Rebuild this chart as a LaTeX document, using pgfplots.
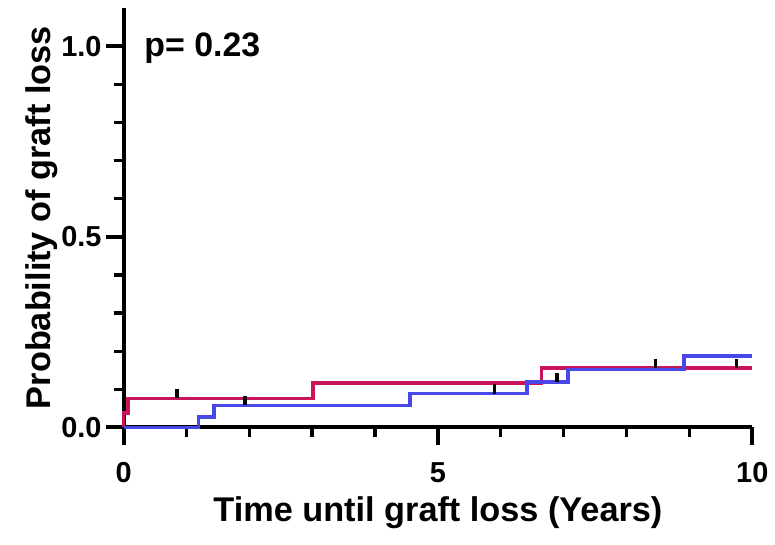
\documentclass[border=0pt]{standalone}
\usepackage{pgfplots}
\pgfplotsset{compat=1.18}
\usepackage{fontspec}
\setmainfont{Liberation Sans}
\definecolor{kmred}{RGB}{200,20,90}
\definecolor{kmblue}{RGB}{72,72,232}
\begin{document}
\begin{tikzpicture}
\begin{axis}[
    scale only axis,
    width=315.5pt,
    height=210.5pt,
    xmin=0, xmax=10,
    ymin=0, ymax=1.1,
    axis lines=left,
    axis line style={-, line width=2pt},
    clip=false,
    xtick={0,5,10},
    minor xtick={1,2,3,4,6,7,8,9},
    ytick={0,0.5,1},
    minor ytick={0.1,0.2,0.3,0.4,0.6,0.7,0.8,0.9},
    tick align=outside,
    major tick length=9pt,
    minor tick length=5pt,
    every tick/.style={black, line width=2pt},
    minor tick style={black, line width=1.7pt},
    /pgf/number format/assume math mode=true,
    ticklabel style={font=\fontsize{14.5}{16}\selectfont\bfseries},
    yticklabel style={/pgf/number format/fixed, /pgf/number format/precision=1, /pgf/number format/fixed zerofill, xshift=1.5pt},
    xticklabel style={yshift=-5pt},
    xlabel={Time until graft loss (Years)},
    ylabel={Probability of graft loss},
    label style={font=\fontsize{17.2}{19}\selectfont\bfseries},
    xlabel style={yshift=0pt},
    ylabel style={yshift=-5pt},
]
% red group
\addplot[const plot, kmred, line width=1.8pt] coordinates {
    (0,0) (0,0.038) (0.07,0.076) (3.01,0.117) (6.65,0.156) (10,0.156)
};
% blue group
\addplot[const plot, kmblue, line width=1.8pt] coordinates {
    (0,0) (1.19,0.028) (1.44,0.058) (4.56,0.089) (6.42,0.119) (7.07,0.152) (8.91,0.187) (10,0.187)
};
% censored observations
\addplot[only marks, mark=|, mark size=2.3pt, black, mark options={line width=1.9pt, yshift=2.3pt}] coordinates {
    (0.85,0.076) (1.93,0.058) (5.90,0.089) (6.89,0.119) (8.46,0.156) (9.75,0.156)
};
\node[anchor=west, font=\fontsize{17}{19}\selectfont\bfseries] at (axis cs:0.22,0.995) {p= 0.23};
\end{axis}
\path (-62pt,-58.5pt) rectangle (325.5pt,214.5pt);
\end{tikzpicture}
\end{document}
